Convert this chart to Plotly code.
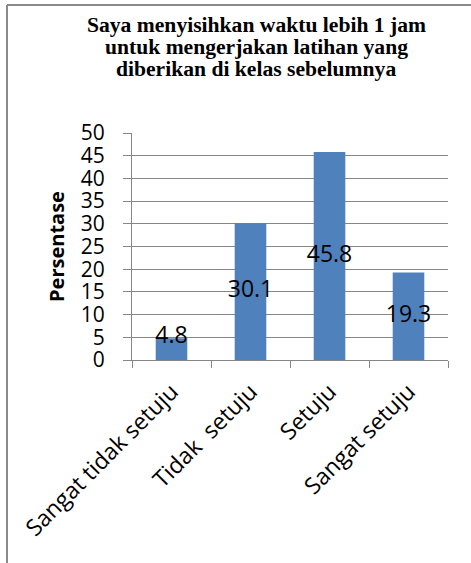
import plotly.graph_objects as go

categories = ["Sangat tidak setuju", "Tidak  setuju", "Setuju", "Sangat setuju"]
values = [4.8, 30.1, 45.8, 19.3]
y_ticks = [0, 5, 10, 15, 20, 25, 30, 35, 40, 45, 50]

title_lines = ["Saya menyisihkan waktu lebih 1 jam",
               "untuk mengerjakan latihan yang",
               "diberikan di kelas sebelumnya"]

W, H = 471, 563
L, R, T, B = 132, 23, 133, 203

SANS = "Open Sans, Lato, sans-serif"

fig = go.Figure()
fig.add_trace(go.Bar(
    x=categories, y=values, width=0.4,
    marker=dict(color="#4F81BD", line=dict(width=0)),
    hoverinfo="skip", showlegend=False,
))
label_y = [max(v / 2, 5) for v in values]
fig.add_trace(go.Scatter(
    x=categories, y=label_y, mode="text",
    text=[f"{v}" for v in values], textposition="middle center",
    textfont=dict(family=SANS, size=23, color="#000000"),
    showlegend=False, hoverinfo="skip", cliponaxis=False,
))

pw = W - L - R
ph = H - T - B
def px_to_paper_x(px):
    return (px - L) / pw
def px_to_paper_y(py):
    return (H - B - py) / ph

title_centers = [25, 47, 69]
annotations = []
for line, cy in zip(title_lines, title_centers):
    annotations.append(dict(
        text=f"<b>{line}</b>", xref="paper", yref="paper",
        x=px_to_paper_x(256), y=px_to_paper_y(cy), xanchor="center", yanchor="middle",
        showarrow=False, align="center",
        font=dict(family="Liberation Serif, Times New Roman, serif", size=21.6, color="#000000"),
    ))

fig.update_layout(
    width=W, height=H,
    margin=dict(l=L, r=R, t=T, b=B, pad=0),
    paper_bgcolor="white", plot_bgcolor="white",
    annotations=annotations,
    shapes=[
        dict(type="line", xref="paper", yref="paper",
             x0=px_to_paper_x(7), x1=px_to_paper_x(7), y0=px_to_paper_y(5), y1=px_to_paper_y(570),
             line=dict(color="#8a8a8a", width=2)),
        dict(type="line", xref="paper", yref="paper",
             x0=px_to_paper_x(7), x1=px_to_paper_x(480), y0=px_to_paper_y(5), y1=px_to_paper_y(5),
             line=dict(color="#8a8a8a", width=2)),
    ],
    xaxis=dict(
        type="category", showline=True, linecolor="#868686", linewidth=1,
        ticks="outside", ticklen=7, tickcolor="#868686", tickson="boundaries",
        tickangle=-45, showgrid=False, ticklabelstandoff=8,
        tickfont=dict(family=SANS, size=23, color="#000000"),
    ),
    yaxis=dict(
        range=[0, 50], tickvals=y_ticks, ticktext=[str(t) for t in y_ticks],
        showline=True, linecolor="#868686", linewidth=1,
        ticks="outside", ticklen=8, tickcolor="#868686",
        showgrid=True, gridcolor="#868686", gridwidth=1, zeroline=False,
        ticklabelstandoff=14,
        tickfont=dict(family=SANS, size=21, color="#000000"),
        title=dict(text="<b>Persentase</b>", standoff=10,
                   font=dict(family=SANS, size=20, color="#000000")),
    ),
)

fig.write_html("out.html")
